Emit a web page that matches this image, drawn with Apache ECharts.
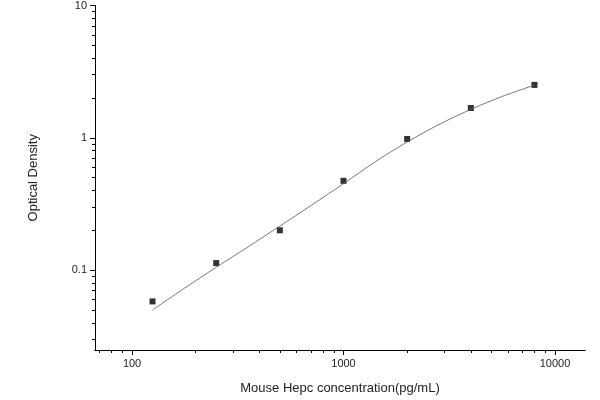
<!DOCTYPE html><html><head><meta charset="utf-8"><script src="https://cdn.jsdelivr.net/npm/echarts@6/dist/echarts.min.js"></script></head><body style="margin:0"><div id="c" style="width:600px;height:400px"></div><script>
const concentrations=[125,250,500,1000,2000,4000,8000];
const od=[0.058,0.113,0.20,0.473,0.98,1.68,2.51];
const curveX=[125,177,250,354,500,707,1000,1414,2000,2828,4000,5657,8000];
const curveY=[0.050,0.073,0.105,0.15,0.215,0.31,0.45,0.66,0.93,1.26,1.64,2.06,2.5];
const xTickLabels=[100,1000,10000];
const yTickLabels=[0.1,1,10];
const L=Math.log10;
const xMin=L(66.8),xMax=L(13870),yMin=L(0.0249),yMax=1;
function minors(a,b){const r=[];for(let e=a;e<=b;e++)for(let m=2;m<=9;m++)r.push(L(m*Math.pow(10,e)));return r;}
const xMinor=minors(1,4).filter(v=>v>xMin&&v<xMax);
const yMinor=minors(-2,0).filter(v=>v>yMin&&v<yMax);
const fmt=v=>{const p=Math.round(v);return String(Math.round(Math.pow(10,p)*1000)/1000);};
const font='Liberation Sans, Arial, sans-serif';
const base={type:'value',splitLine:{show:false},axisLine:{onZero:false,lineStyle:{color:'#000'}}};
const ch=echarts.init(document.getElementById('c'));
ch.setOption({animation:false,
grid:{left:95,right:15,top:5,bottom:50},
xAxis:[Object.assign({},base,{min:xMin,max:xMax,name:'Mouse Hepc concentration(pg/mL)',nameLocation:'middle',nameGap:32,nameTextStyle:{fontFamily:font,fontSize:13,color:'#222'},
 axisTick:{length:5,lineStyle:{color:'#000'},customValues:xTickLabels.map(L)},axisLabel:{fontFamily:font,fontSize:11,color:'#222',customValues:xTickLabels.map(L),formatter:fmt}}),
 Object.assign({},base,{min:xMin,max:xMax,position:'bottom',axisTick:{length:3,lineStyle:{color:'#000'},customValues:xMinor},axisLabel:{show:false}})],
yAxis:[Object.assign({},base,{min:yMin,max:yMax,name:'Optical Density',nameLocation:'middle',nameGap:55,nameTextStyle:{fontFamily:font,fontSize:13,color:'#222'},
 axisTick:{length:5,lineStyle:{color:'#000'},customValues:yTickLabels.map(L)},axisLabel:{fontFamily:font,fontSize:11,color:'#222',customValues:yTickLabels.map(L),formatter:fmt}}),
 Object.assign({},base,{min:yMin,max:yMax,position:'left',axisTick:{length:3,lineStyle:{color:'#000'},customValues:yMinor},axisLabel:{show:false}})],
series:[
{type:'line',smooth:0.3,symbol:'none',data:curveX.map((x,i)=>[L(x),L(curveY[i])]),lineStyle:{color:'#555',width:0.8}},
{type:'scatter',symbol:'rect',symbolSize:6,itemStyle:{color:'#000'},data:concentrations.map((x,i)=>[L(x),L(od[i])])}
]});
</script></body></html>
